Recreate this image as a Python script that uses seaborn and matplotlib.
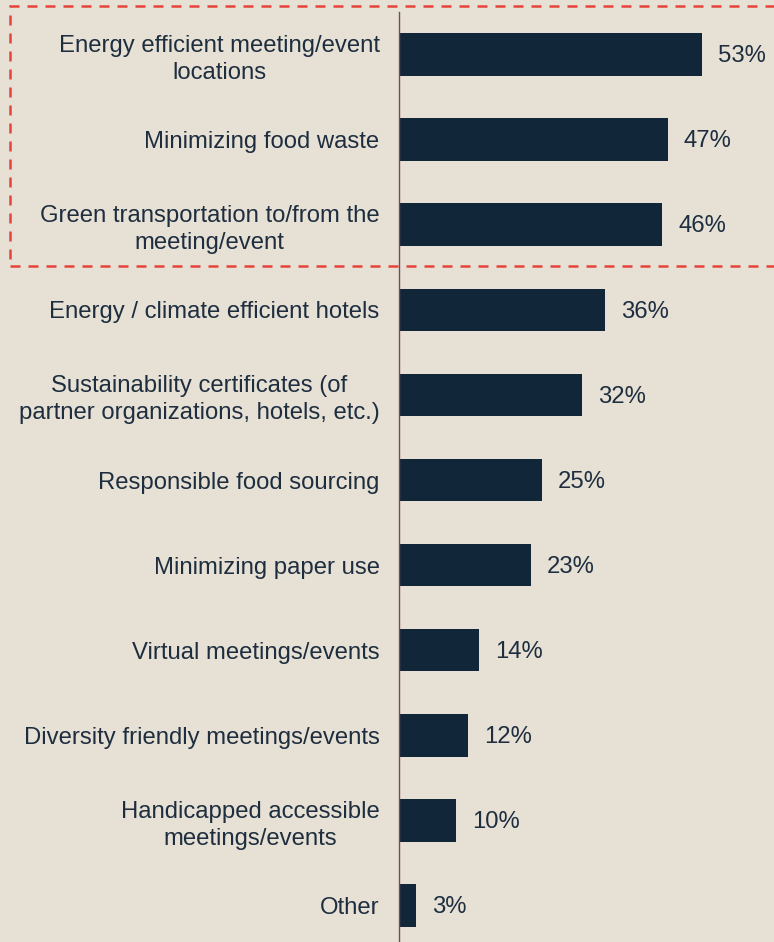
import matplotlib
matplotlib.use("Agg")
import matplotlib.pyplot as plt
from matplotlib.patches import Rectangle
import seaborn as sns
import pandas as pd

categories = [
    "Energy efficient meeting/event\nlocations",
    "Minimizing food waste",
    "Green transportation to/from the\nmeeting/event",
    "Energy / climate efficient hotels",
    "Sustainability certificates (of\npartner organizations, hotels, etc.)",
    "Responsible food sourcing",
    "Minimizing paper use",
    "Virtual meetings/events",
    "Diversity friendly meetings/events",
    "Handicapped accessible\nmeetings/events",
    "Other",
]
shares = [53, 47, 46, 36, 32, 25, 23, 14, 12, 10, 3]

BG = "#E6E0D5"
BAR = "#12263A"
TEXT = "#1E2E3F"
AXIS = "#7A4A55"
HIGHLIGHT = "#E8433A"

sns.set_theme(style="white")
plt.rcParams["font.family"] = ["Liberation Sans", "DejaVu Sans"]

df = pd.DataFrame({"item": categories, "share": shares})

W, H, DPI = 774, 942, 100
FS = 17.2
fig = plt.figure(figsize=(W / DPI, H / DPI), dpi=DPI, facecolor=BG)
ax = fig.add_axes([399 / W, -6 / H, (W - 399) / W, (948 - 12) / H])
ax.set_facecolor(BG)

sns.barplot(data=df, x="share", y="item", orient="h", color=BAR,
            width=0.5, saturation=1, linewidth=0, ax=ax)

px_per_pct = 5.72
ax.set_xlim(0, (W - 399) / px_per_pct)
ax.set_ylim(len(categories) - 0.5, -0.5)

for i, v in enumerate(shares):
    ax.text(v + 16 / px_per_pct, i + 0.02, f"{v}%", va="center", ha="left",
            fontsize=FS, color=TEXT)

ax.set_yticks(range(len(categories)))
ax.set_yticklabels(categories, fontsize=FS, color=TEXT,
                   multialignment="center", linespacing=1.28)
ax.tick_params(axis="y", length=0, pad=14)
ax.set_xticks([])
ax.set_xlabel("")
ax.set_ylabel("")
for side in ("top", "right", "bottom"):
    ax.spines[side].set_visible(False)
ax.spines["left"].set_color(AXIS)
ax.spines["left"].set_linewidth(1.0)

# dashed frame around the top three items
fig.patches.append(Rectangle((10 / W, 1 - 266 / H), 800 / W, 260 / H,
                             transform=fig.transFigure, fill=False,
                             edgecolor=HIGHLIGHT, linewidth=1.8,
                             linestyle=(0, (4, 3.2)), zorder=5))

fig.savefig("out.png", dpi=DPI, facecolor=BG)
